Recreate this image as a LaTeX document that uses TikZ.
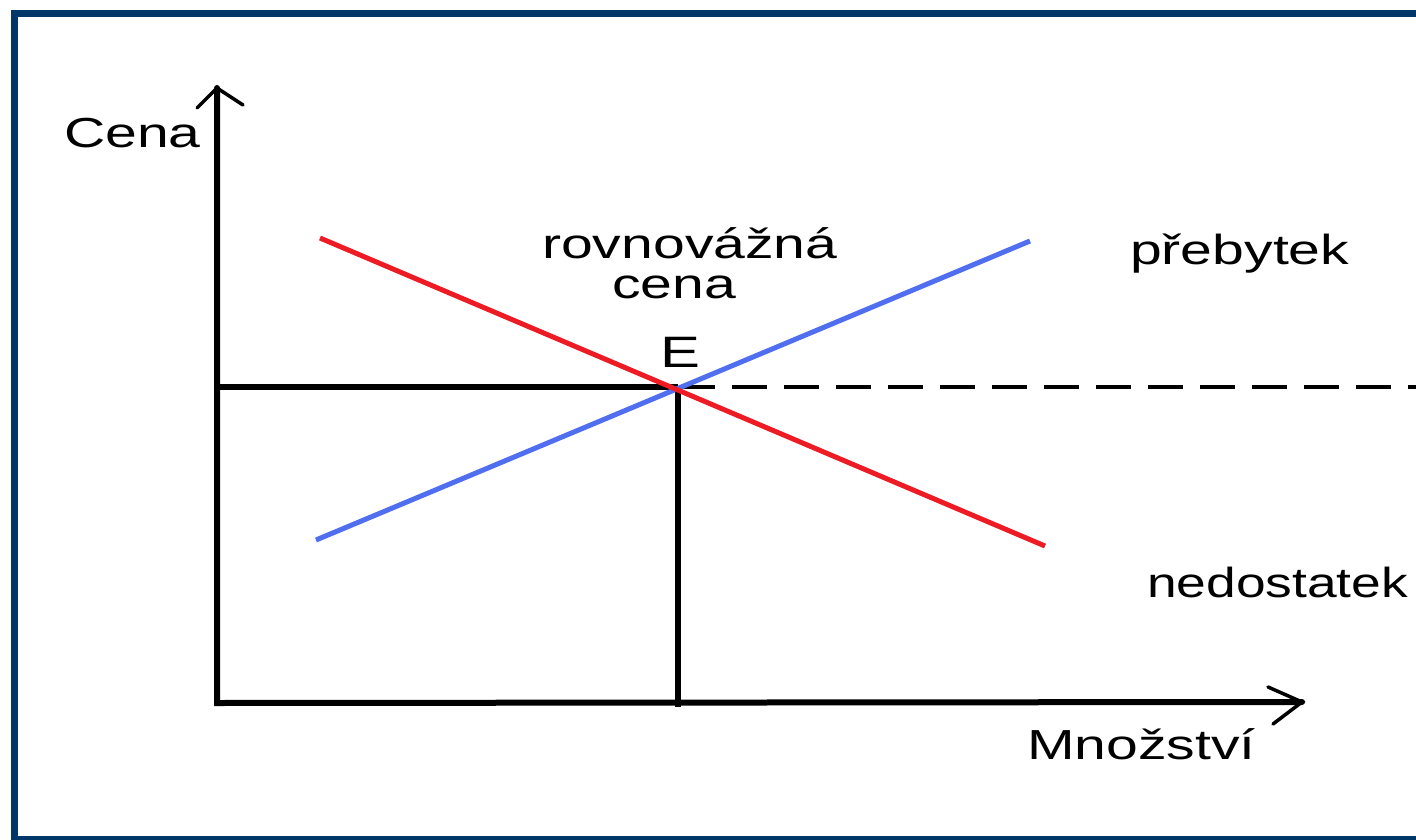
\documentclass[tikz,border=0pt]{standalone}
\usepackage{fontspec}
\setmainfont{Liberation Sans}[FakeStretch=1.36]
\newfontfamily\narrowlbl{Liberation Sans}[FakeStretch=1.27]
\definecolor{framecol}{RGB}{0,54,104}
\definecolor{demandred}{RGB}{237,28,36}
\definecolor{supplyblue}{RGB}{80,110,240}
\tikzset{
  framebox/.style={draw=framecol, line width=7pt},
  axis/.style={line width=6pt, line cap=round},
  armline/.style={line width=3.5pt, line cap=round},
  guide/.style={line width=6pt},
  curvered/.style={draw=demandred, line width=5pt},
  curveblue/.style={draw=supplyblue, line width=5pt},
  lbl/.style={inner sep=0pt, anchor=base west, font=\fontsize{42}{48}\selectfont}
}
\begin{document}
\begin{tikzpicture}[x=1pt,y=-1pt]
\useasboundingbox (0,0) rectangle (1416,840);
\clip (0,0) rectangle (1416,840);
\fill[white] (0,0) rectangle (1416,840);
\draw[framebox] (14.5,13.5) rectangle (1450,839.5);

% coordinates
\coordinate (O) at (217,703);
\coordinate (ytip) at (217,88);
\coordinate (yarmL) at (197,108);
\coordinate (yarmR) at (243,105);
\coordinate (xtip) at (1302,702);
\coordinate (xarmU) at (1268,687);
\coordinate (xarmD) at (1273,724);
\coordinate (eq) at (678,387);
\coordinate (eqy) at (217,387);
\coordinate (eqx) at (678,707);
\coordinate (dashend) at (1416,387);
\coordinate (d1) at (320,238);
\coordinate (d2) at (1045,546);
\coordinate (s1) at (316,540);
\coordinate (s2) at (1030,241);

% guide lines
\draw[guide] (eqy) -- (eq);
\draw[guide] (eq) -- (eqx);
\draw[line width=3.5pt, dash pattern=on 35pt off 17pt] ([xshift=2pt]eq) -- (dashend);

% curves
\draw[curveblue] (s1) -- (s2);
\draw[curvered] (d1) -- (d2);

% axes
\draw[axis] (ytip) -- (O) -- (xtip);
\draw[armline] (yarmL) -- (ytip) -- (yarmR);
\draw[armline] (xarmU) -- (xtip) -- (xarmD);

% labels
\node[lbl] (cena) at (64,148) {Cena};
\node[lbl] (rovn) at (542,258) {rovnovážná};
\node[lbl] (cena2) at (612,298) {cena};
\node[lbl, font=\fontsize{44}{50}\selectfont] (E) at (660,367) {E};
\node[lbl] (preb) at (1130,264) {přebytek};
\node[lbl, font=\narrowlbl\fontsize{42}{48}\selectfont] (nedo) at (1147,597) {nedostatek};
\node[lbl] (mnoz) at (1027,759) {Množství};
\end{tikzpicture}
\end{document}
